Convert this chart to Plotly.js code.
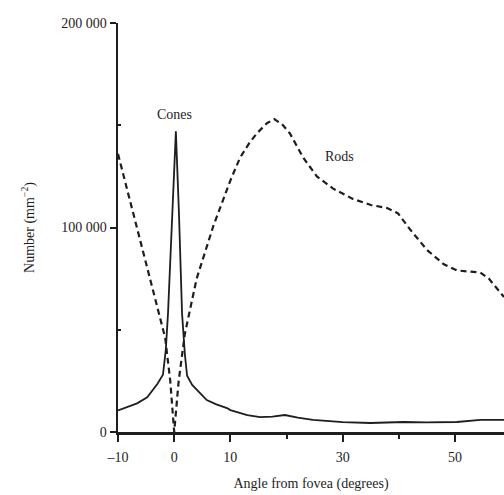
<!DOCTYPE html>
<html>
<head>
<meta charset="utf-8">
<script src="https://cdn.plot.ly/plotly-3.0.1.min.js"></script>
<style>html,body{margin:0;padding:0;background:#fff;}#chart{width:504px;height:495px;}</style>
</head>
<body>
<div id="chart"></div>
<script>
// Cone density (per mm^2) vs angle from fovea (degrees)
const coneAngle = [-10, -8, -6.6, -4.8, -3, -2, -1.5, -1.1, -0.4, 0.3, 0.85, 1.4, 1.9, 2.3, 3.2, 4.2, 5.8, 7.5, 9.4, 10, 13, 15.3, 17.5, 19.7, 22, 24.7, 30, 34.9, 40.8, 45, 50.3, 54.5, 58.7];
const coneDensity = [10500, 12500, 14000, 17000, 23500, 28000, 40000, 58000, 107000, 147000, 107000, 58000, 38000, 27500, 23000, 20000, 15600, 13500, 11700, 10700, 8300, 7300, 7500, 8300, 7000, 5900, 4800, 4400, 4900, 4700, 4900, 5900, 5900];

// Rod density (per mm^2) vs angle from fovea (degrees)
const rodAngle = [-10, -6, -3, -1.6, -0.7, 0, 0.8, 1.9, 4, 7, 10, 11.7, 13.3, 14.7, 16.5, 17.8, 19.2, 20.6, 23, 25.4, 28.3, 31.8, 35, 37.9, 39.8, 42, 45, 48, 50.3, 54.5, 56, 58, 58.7];
const rodDensity = [136000, 93000, 60000, 46000, 25000, 0, 25000, 48000, 75000, 101000, 123000, 134000, 141000, 146000, 151000, 153000, 150500, 146000, 134000, 125000, 119000, 114000, 111000, 109500, 107000, 99000, 89000, 82000, 79000, 78000, 75000, 68000, 66000];

// Axis ticks
const xMajorTicks = [-10, 0, 10, 30, 50];
const xMajorLabels = ['\u201310', '0', '10', '30', '50'];
const xMinorTicks = [20, 40];
const yMajorTicks = [0, 100000, 200000];
const yMajorLabels = ['0', '100 000', '200 000'];
const yMinorTicks = [50000, 150000];

const seriesLabels = ['Cones', 'Rods'];

const serif = 'Liberation Serif, Times New Roman, serif';
const ink = '#1e1e1e';
const fs = 14;

const traces = [
  {
    x: coneAngle, y: coneDensity, name: seriesLabels[0], type: 'scatter', mode: 'lines',
    line: {color: ink, width: 1.8, shape: 'linear'}
  },
  {
    x: rodAngle, y: rodDensity, name: seriesLabels[1], type: 'scatter', mode: 'lines',
    line: {color: ink, width: 2.2, dash: '6px,4px', shape: 'linear'}
  }
];

const layout = {
  width: 504, height: 495,
  margin: {l: 118, r: 0, t: 23, b: 63},
  paper_bgcolor: '#fff', plot_bgcolor: '#fff',
  showlegend: false,
  font: {family: serif, size: fs, color: ink},
  xaxis: {
    range: [-10, 58.7],
    showgrid: false, zeroline: false,
    showline: true, linecolor: ink, linewidth: 2.5,
    ticks: 'outside', ticklen: 7, tickwidth: 2, tickcolor: ink,
    ticklabelstandoff: 4,
    tickmode: 'array', tickvals: xMajorTicks, ticktext: xMajorLabels,
    minor: {tickmode: 'array', tickvals: xMinorTicks, ticks: 'outside', ticklen: 4, tickwidth: 2, tickcolor: ink},
    tickfont: {family: serif, size: fs, color: ink},
    title: {text: 'Angle from fovea (degrees)', font: {family: serif, size: fs, color: ink}, standoff: 14}
  },
  yaxis: {
    range: [0, 200000],
    showgrid: false, zeroline: false,
    showline: true, linecolor: ink, linewidth: 2.5,
    ticks: 'outside', ticklen: 6, tickwidth: 2, tickcolor: ink,
    tickmode: 'array', tickvals: yMajorTicks, ticktext: yMajorLabels,
    minor: {tickmode: 'array', tickvals: yMinorTicks, ticks: 'inside', ticklen: 3, tickwidth: 2, tickcolor: ink},
    tickfont: {family: serif, size: fs, color: ink},
    title: {text: 'Number (mm<sup>\u22122</sup>)', font: {family: serif, size: fs, color: ink}, standoff: 24}
  },
  annotations: [
    {x: 0.1, y: 155500, xref: 'x', yref: 'y', text: seriesLabels[0], showarrow: false,
     font: {family: serif, size: fs, color: ink}},
    {x: 29.5, y: 134500, xref: 'x', yref: 'y', text: seriesLabels[1], showarrow: false,
     font: {family: serif, size: fs, color: ink}}
  ]
};

Plotly.newPlot('chart', traces, layout, {displayModeBar: false, staticPlot: true});
</script>
</body>
</html>
